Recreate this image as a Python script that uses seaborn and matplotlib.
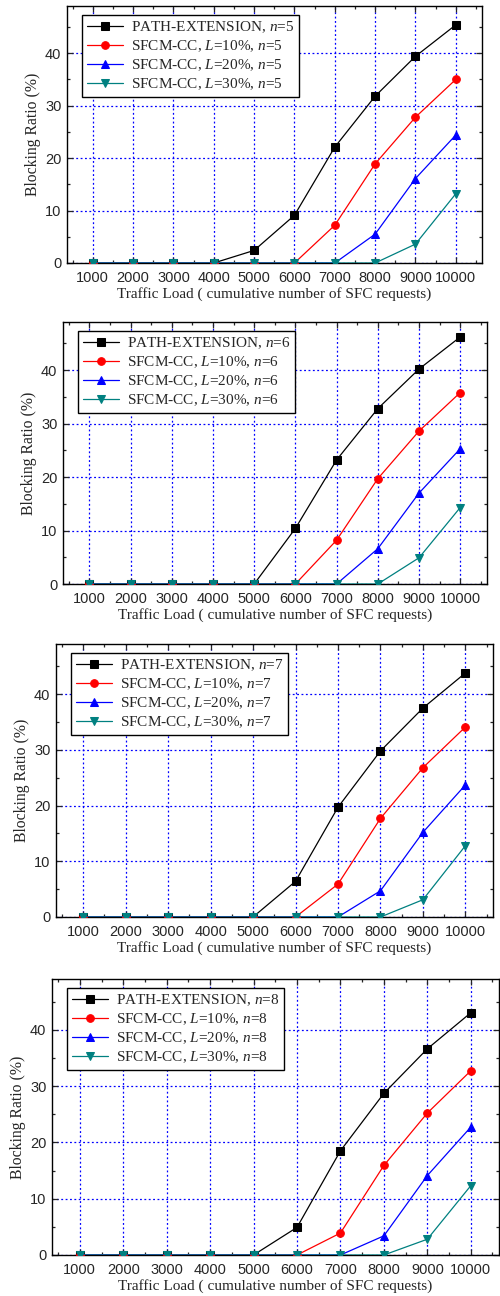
import matplotlib
matplotlib.use("Agg")
import matplotlib.pyplot as plt
from matplotlib.ticker import MultipleLocator
import seaborn as sns

traffic_load = [1000, 2000, 3000, 4000, 5000, 6000, 7000, 8000, 9000, 10000]
hop_counts = [5, 6, 7, 8]

path_ext = {
    5: [0, 0, 0, 0, 2.4, 9.1, 22.1, 31.8, 39.4, 45.4],
    6: [0, 0, 0, 0, 0, 10.4, 23.2, 32.8, 40.2, 46.2],
    7: [0, 0, 0, 0, 0, 6.4, 19.7, 29.8, 37.5, 43.8],
    8: [0, 0, 0, 0, 0, 4.9, 18.5, 28.7, 36.6, 43.0],
}
sfcm_l10 = {
    5: [0, 0, 0, 0, 0, 0, 7.2, 18.9, 27.8, 35.0],
    6: [0, 0, 0, 0, 0, 0, 8.2, 19.7, 28.6, 35.8],
    7: [0, 0, 0, 0, 0, 0, 5.9, 17.7, 26.8, 34.1],
    8: [0, 0, 0, 0, 0, 0, 3.9, 15.9, 25.2, 32.7],
}
sfcm_l20 = {
    5: [0, 0, 0, 0, 0, 0, 0, 5.5, 16.1, 24.4],
    6: [0, 0, 0, 0, 0, 0, 0, 6.6, 17.0, 25.3],
    7: [0, 0, 0, 0, 0, 0, 0, 4.7, 15.2, 23.7],
    8: [0, 0, 0, 0, 0, 0, 0, 3.4, 14.1, 22.7],
}
sfcm_l30 = {
    5: [0, 0, 0, 0, 0, 0, 0, 0, 3.6, 13.2],
    6: [0, 0, 0, 0, 0, 0, 0, 0, 4.9, 14.3],
    7: [0, 0, 0, 0, 0, 0, 0, 0, 3.1, 12.8],
    8: [0, 0, 0, 0, 0, 0, 0, 0, 2.8, 12.3],
}

series = [
    (path_ext, "PATH-EXTENSION, $n$={n}", "s", "black"),
    (sfcm_l10, "SFCM-CC, $L$=10%, $n$={n}", "o", "#ff0000"),
    (sfcm_l20, "SFCM-CC, $L$=20%, $n$={n}", "^", "#0000ff"),
    (sfcm_l30, "SFCM-CC, $L$=30%, $n$={n}", "v", "#008080"),
]

# axes boxes in pixels: left, top, right, bottom
boxes = [(67, 6, 482, 263), (63, 322, 487, 584), (56, 644, 493, 917), (52, 979, 499, 1255)]

sns.set_style("ticks")
plt.rcParams["font.family"] = ["Liberation Serif", "DejaVu Serif"]
plt.rcParams["mathtext.fontset"] = "custom"
plt.rcParams["mathtext.rm"] = "Liberation Serif"
plt.rcParams["mathtext.it"] = "Liberation Serif:italic"

W, H = 500, 1296
fig = plt.figure(figsize=(W / 100, H / 100), dpi=100)

for n, (l, t, r, b) in zip(hop_counts, boxes):
    ax = fig.add_axes([l / W, 1 - b / H, (r - l) / W, (b - t) / H])
    for data, label, marker, color in series:
        sns.lineplot(
            x=traffic_load, y=data[n], ax=ax, color=color, marker=marker,
            markersize=5.5, markeredgecolor=color, linewidth=0.9,
            label=label.format(n=n), zorder=3,
        )
    ax.set_xlim(360, 10650)
    ax.set_ylim(0, 49)
    ax.set_xticks(traffic_load)
    ax.xaxis.set_minor_locator(MultipleLocator(500))
    ax.set_yticks([0, 10, 20, 30, 40])
    ax.yaxis.set_minor_locator(MultipleLocator(5))
    ax.grid(True, which="major", color="#0000ff", linestyle=(0, (1.5, 2)), linewidth=0.9)
    ax.tick_params(which="both", direction="in", top=True, right=True, width=0.9)
    ax.tick_params(which="major", length=4)
    ax.tick_params(which="minor", length=2.5)
    ax.tick_params(axis="x", pad=6)
    ax.tick_params(axis="y", pad=4)
    for lab in ax.get_xticklabels() + ax.get_yticklabels():
        lab.set_fontfamily("Liberation Sans")
        lab.set_fontsize(10.5)
    for sp in ax.spines.values():
        sp.set_linewidth(1.0)
        sp.set_color("black")
    ax.set_xlabel("Traffic Load ( cumulative number of SFC requests)", fontsize=11, labelpad=1)
    ax.set_ylabel("Blocking Ratio (%)", fontsize=11.3, labelpad=3)
    aw, ah = r - l, b - t
    leg = ax.legend(loc="upper left", bbox_to_anchor=(15 / aw, 1 - 9 / ah), borderaxespad=0,
                    fontsize=11, frameon=True, fancybox=False,
                    edgecolor="black", framealpha=1, borderpad=0.3, labelspacing=0.22,
                    handlelength=2.4, handletextpad=0.5)
    leg.get_frame().set_linewidth(1.0)

fig.savefig("out.png", dpi=100)
